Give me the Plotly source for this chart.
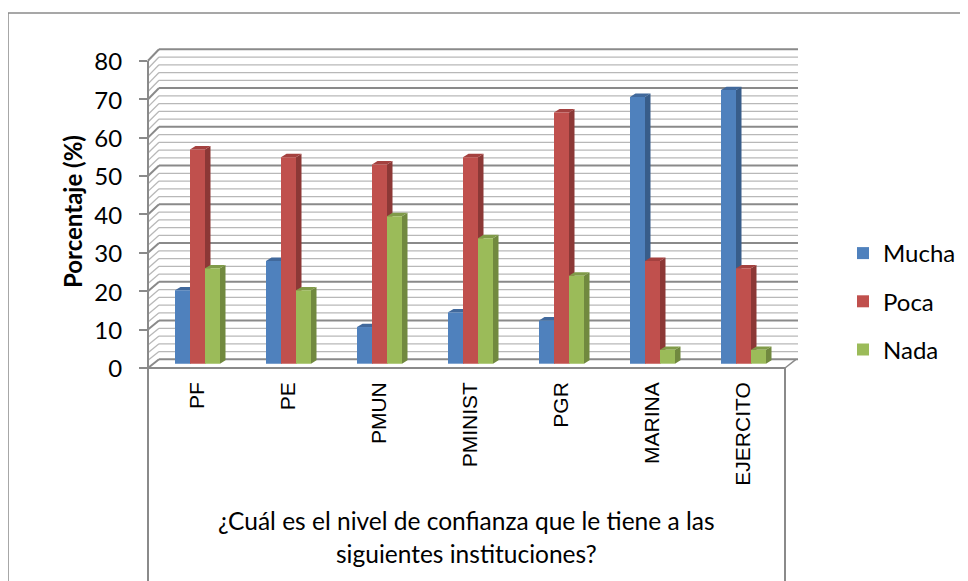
import plotly.graph_objects as go

categories = ["PF", "PE", "PMUN", "PMINIST", "PGR", "MARINA", "EJERCITO"]
mucha = [19.0, 26.6, 9.5, 13.3, 11.2, 69.1, 70.9]
poca = [55.5, 53.5, 51.6, 53.5, 65.1, 26.6, 24.7]
nada = [24.7, 19.0, 38.2, 32.5, 22.8, 3.6, 3.6]
series_names = ["Mucha", "Poca", "Nada"]
y_ticks = [0, 10, 20, 30, 40, 50, 60, 70, 80]

front_cols = ["#4F81BD", "#C0504D", "#9BBB59"]
side_cols = ["#385D8A", "#8C3836", "#71893F"]
top_cols = ["#41699C", "#A4413F", "#809B49"]

# screen geometry (the page body has an 8px margin)
OFF = 8
SW, SH = 968, 581
W, H = SW - OFF, SH - OFF
PL, PR, PT, PB = 148, 800, 49, 368


def fx(p):
    return (p - PL) / (PR - PL)


def fy(p):
    return (PB - p) / (PB - PT)


GX0 = 197.5      # centre of first group (px)
GSTEP = 91.0     # px per category
BAR_PX = 15.0
BASE_PX = 363.7
VSCALE = 3.86    # px per unit (bar plane)
FRONT0, FSCALE = 368.0, 3.84
BACK0, BSCALE = 359.3, 3.875
BACK_X0, BACK_X1 = 159, 798
FRONT_X1 = 785

x_range = [(PL - GX0) / GSTEP, (PR - GX0) / GSTEP]
y_range = [-(PB - BASE_PX) / VSCALE, (BASE_PX - PT) / VSCALE]
y2_range = [0, (FRONT0 - PT) / FSCALE]

bw = BAR_PX / GSTEP
bargap = 1 - 3 * bw
DX = 5.5 / GSTEP
DY = 3.4 / VSCALE

fig = go.Figure()
all_series = [mucha, poca, nada]
xs = list(range(len(categories)))
for k, (name, vals) in enumerate(zip(series_names, all_series)):
    fig.add_trace(go.Bar(
        x=xs, y=vals, name=name, marker=dict(color=front_cols[k], line=dict(width=0)),
        legendgroup=name, hovertemplate="%{y}<extra>" + name + "</extra>"))

fig.add_trace(go.Scatter(x=[None], y=[None], yaxis="y2", showlegend=False,
                         hoverinfo="skip"))

shapes = []
for v in range(0, 81, 2):
    major = (v % 10 == 0)
    col = "#8A8A8A" if major else "#B8B8B8"
    wd = 2 if major else 1.3
    yb = BACK0 - BSCALE * v
    yf = FRONT0 - FSCALE * v
    shapes.append(dict(type="line", xref="paper", yref="paper", layer="below",
                       x0=fx(BACK_X0), x1=fx(BACK_X1), y0=fy(yb), y1=fy(yb),
                       line=dict(color=col, width=wd)))
    shapes.append(dict(type="line", xref="paper", yref="paper", layer="below",
                       x0=fx(PL), x1=fx(BACK_X0), y0=fy(yf), y1=fy(yb),
                       line=dict(color=col, width=wd)))

axis_col = "#8A8A8A"
shapes.append(dict(type="line", xref="paper", yref="paper", x0=fx(PL), x1=fx(PL),
                   y0=fy(FRONT0), y1=fy(FRONT0 - FSCALE * 80), line=dict(color=axis_col, width=2)))
shapes.append(dict(type="line", xref="paper", yref="paper", x0=fx(PL), x1=fx(FRONT_X1),
                   y0=fy(FRONT0), y1=fy(FRONT0), line=dict(color=axis_col, width=2)))
shapes.append(dict(type="line", xref="paper", yref="paper", x0=fx(FRONT_X1), x1=fx(FRONT_X1 + 11),
                   y0=fy(FRONT0), y1=fy(BACK0), line=dict(color=axis_col, width=1.5)))
shapes.append(dict(type="line", xref="paper", yref="paper", x0=fx(PL), x1=fx(PL),
                   y0=fy(FRONT0), y1=fy(SH + 5), line=dict(color=axis_col, width=2)))
shapes.append(dict(type="line", xref="paper", yref="paper", x0=fx(FRONT_X1), x1=fx(FRONT_X1),
                   y0=fy(FRONT0), y1=fy(SH + 5), line=dict(color=axis_col, width=2)))
shapes.append(dict(type="rect", xref="paper", yref="paper", x0=fx(8), x1=fx(SW + 10),
                   y0=fy(13), y1=fy(SH + 10), line=dict(color="#8A8A8A", width=1.5),
                   fillcolor="rgba(0,0,0,0)"))

for k, vals in enumerate(all_series):
    for i, v in enumerate(vals):
        xl = i + (k - 1.5) * bw
        xr = xl + bw
        side = f"M{xr},0 L{xr + DX},{DY} L{xr + DX},{v + DY} L{xr},{v} Z"
        top = f"M{xl},{v} L{xr},{v} L{xr + DX},{v + DY} L{xl + DX},{v + DY} Z"
        shapes.append(dict(type="path", xref="x", yref="y", path=side, layer="between",
                           fillcolor=side_cols[k], line=dict(width=0)))
        shapes.append(dict(type="path", xref="x", yref="y", path=top, layer="between",
                           fillcolor=top_cols[k], line=dict(width=0)))

annotations = [
    dict(text="<b>Porcentaje (%)</b>", xref="paper", yref="paper", x=fx(72), y=fy(212),
         xanchor="center", yanchor="middle",
         textangle=-90, showarrow=False, font=dict(family="Lato", size=24, color="black")),
    dict(text="¿Cuál es el nivel de confianza que le tiene a las", xref="paper", yref="paper",
         x=fx(466), y=fy(520), xanchor="center", yanchor="middle",
         showarrow=False, font=dict(family="Lato", size=24.5, color="black")),
    dict(text="siguientes instituciones?", xref="paper", yref="paper",
         x=fx(466), y=fy(553.5), xanchor="center", yanchor="middle",
         showarrow=False, font=dict(family="Lato", size=24.5, color="black")),
]

fig.update_layout(
    width=W, height=H, autosize=False,
    margin=dict(l=PL - OFF, r=SW - PR, t=PT - OFF, b=SH - PB, pad=0, autoexpand=False),
    paper_bgcolor="white", plot_bgcolor="rgba(0,0,0,0)",
    barmode="group", bargap=bargap, bargroupgap=0,
    shapes=shapes, annotations=annotations,
    xaxis=dict(range=x_range, tickmode="array", tickvals=xs, ticktext=categories,
               tickangle=-90, showgrid=False, zeroline=False, showline=False, ticks="",
               tickfont=dict(family="Liberation Sans", size=21, color="black"),
               ticklabelstandoff=9, automargin=False, fixedrange=True),
    yaxis=dict(range=y_range, visible=False, showgrid=False, zeroline=False,
               automargin=False, fixedrange=True),
    yaxis2=dict(range=y2_range, overlaying="y", side="left", anchor="x",
                tickmode="array", tickvals=y_ticks, ticks="outside", ticklen=8,
                tickcolor=axis_col, tickwidth=1.5, showgrid=False, zeroline=False,
                showline=False, tickfont=dict(family="Lato", size=24, color="black"),
                ticklabelshift=1, ticklabelstandoff=12, automargin=False, fixedrange=True),
    legend=dict(x=fx(843), y=fy(231), xanchor="left", yanchor="top",
                font=dict(family="Lato", size=24, color="black"),
                tracegroupgap=14, itemwidth=30, bgcolor="rgba(0,0,0,0)"),
    showlegend=True,
)

fig.write_html("out.html")
